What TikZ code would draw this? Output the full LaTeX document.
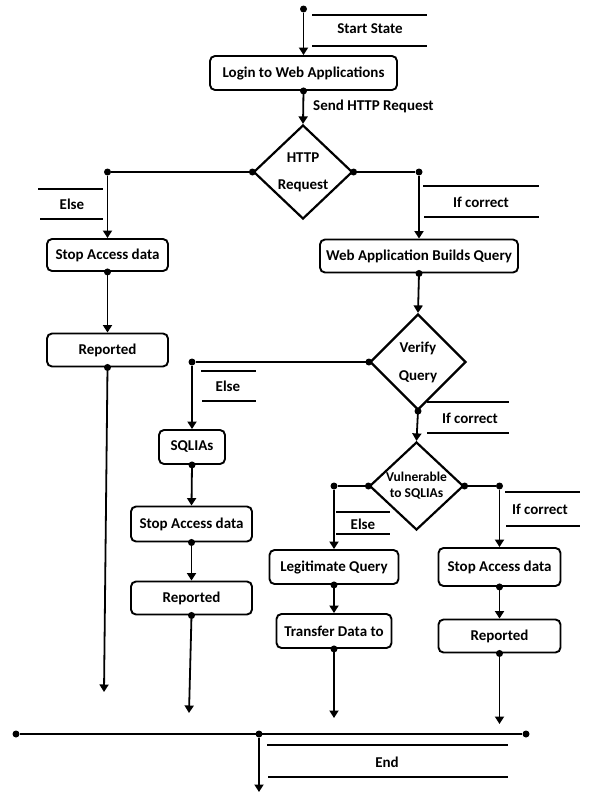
\documentclass[tikz,border=0pt]{standalone}
\usepackage{fontspec}
\setmainfont{Carlito}
\usetikzlibrary{arrows.meta,shapes.geometric}
\begin{document}
\begin{tikzpicture}[x=1pt,y=-1pt,
  txt/.style={font=\bfseries\fontsize{15}{17}\selectfont,inner sep=0pt},
  box/.style={draw,line width=1.9pt,rounded corners=5pt,txt,align=center},
  dia/.style={draw,diamond,line width=2.2pt,inner sep=0pt,txt,align=center},
  arr/.style={line width=1.8pt,-{Triangle[width=9pt,length=7.5pt]}},
  ln/.style={line width=1.8pt},
  bar/.style={line width=2.2pt},
  dot/.style={circle,fill,inner sep=0pt,minimum size=7pt}]
\useasboundingbox (0,0) rectangle (592,793);

% nodes
\node[box,minimum width=187pt,minimum height=34pt] (login) at (303.5,73) {Login to Web Applications};
\node[dia,minimum width=99pt,minimum height=94pt] (http) at (303,172) {HTTP\\[10pt]Request};
\node[box,minimum width=121pt,minimum height=32pt] (stop1) at (107.5,255) {Stop Access data};
\node[box,minimum width=198pt,minimum height=33pt] (wabq) at (419,256) {Web Application Builds Query};
\node[box,minimum width=121pt,minimum height=33pt] (rep1) at (107.5,350) {Reported};
\node[dia,minimum width=96pt,minimum height=96pt] (verify) at (418,362) {Verify\\[11pt]Query};
\node[box,minimum width=66pt,minimum height=34pt] (sqlias) at (192,447) {SQLIAs};
\node[dia,minimum width=94pt,minimum height=88pt,font=\bfseries\fontsize{13.5}{16}\selectfont] (vuln) at (416.5,486) {Vulnerable\\to SQLIAs};
\node[box,minimum width=121pt,minimum height=35pt] (stop2) at (191.5,524) {Stop Access data};
\node[box,minimum width=121pt,minimum height=33pt] (rep2) at (191.5,598) {Reported};
\node[box,minimum width=129pt,minimum height=34pt] (legit) at (334,567) {Legitimate Query};
\node[box,minimum width=115pt,minimum height=34pt] (transfer) at (334,631) {Transfer Data to};
\node[box,minimum width=122pt,minimum height=38pt] (stop3) at (499.5,567) {Stop Access data};
\node[box,minimum width=122pt,minimum height=33pt] (rep3) at (499.5,636) {Reported};

% dots / coordinates
\node[dot] (start) at (303.5,9) {};
\node[dot] (hl) at (107.5,172) {};
\node[dot] (hr) at (419,172) {};
\node[dot] (vl) at (192,362) {};
\node[dot] (ul) at (334,486) {};
\node[dot] (ur) at (499.5,486) {};
\node[dot] (bl) at (16,734) {};
\node[dot] (br) at (526,734) {};
\node[dot] (bm) at (259,734) {};
\coordinate (e1) at (104,692);
\coordinate (e2) at (189,713);
\coordinate (e3) at (334,718);
\coordinate (e4) at (499.5,724);
\coordinate (eend) at (259,792);

% dots on node anchors
\foreach \a in {login.south,http.west,http.east,stop1.south,rep1.south,wabq.south,verify.west,verify.south,sqlias.south,stop2.south,rep2.south,vuln.west,vuln.east,legit.south,transfer.south,stop3.south,rep3.south}
  \node[dot] at (\a) {};

% connectors
\draw[arr] (start) -- (login.north);
\draw[arr] (login.south) -- (http.north);
\draw[ln] (http.west) -- (hl);
\draw[arr] (hl) -- (stop1.north);
\draw[ln] (http.east) -- (hr);
\draw[arr] (hr) -- (wabq.north);
\draw[arr] (stop1.south) -- (rep1.north);
\draw[arr] (rep1.south) -- (e1);
\draw[arr] (wabq.south) -- (verify.north);
\draw[ln] (verify.west) -- (vl);
\draw[arr] (vl) -- (sqlias.north);
\draw[arr] (verify.south) -- (vuln.north);
\draw[arr] (sqlias.south) -- (stop2.north);
\draw[arr] (stop2.south) -- (rep2.north);
\draw[arr] (rep2.south) -- (e2);
\draw[ln] (vuln.west) -- (ul);
\draw[arr] (ul) -- (legit.north);
\draw[ln] (vuln.east) -- (ur);
\draw[arr] (ur) -- (stop3.north);
\draw[arr] (legit.south) -- (transfer.north);
\draw[arr] (transfer.south) -- (e3);
\draw[arr] (stop3.south) -- (rep3.north);
\draw[arr] (rep3.south) -- (e4);
\draw[ln] (bl) -- (br);
\draw[arr] (bm) -- (eend);

% labels with bars
\draw[bar] (312,15) -- (427,15) (312,46) -- (427,46);
\node[txt] (lstart) at (370,29) {Start State};
\node[txt,anchor=west] (lsend) at (313,106) {Send HTTP Request};
\draw[bar] (38,189) -- (103,189) (40,219) -- (103,219);
\node[txt] (lelse1) at (72,204) {Else};
\draw[bar] (423,186) -- (539,186) (424,217) -- (539,217);
\node[txt] (lif1) at (481,202) {If correct};
\draw[bar] (201,371) -- (256,371) (202,401) -- (256,401);
\node[txt] (lelse2) at (228,386) {Else};
\draw[bar] (427,402) -- (509,402) (427,433) -- (509,433);
\node[txt] (lif2) at (470,418) {If correct};
\draw[bar] (336,512) -- (390,512) (336,534) -- (390,534);
\node[txt] (lelse3) at (363,524) {Else};
\draw[bar] (505,492) -- (580,492) (506,526) -- (580,526);
\node[txt] (lif3) at (540,509) {If correct};
\draw[bar] (267,745) -- (508,745) (268,777) -- (508,777);
\node[txt] (lend) at (387,762) {End};
\end{tikzpicture}
\end{document}
